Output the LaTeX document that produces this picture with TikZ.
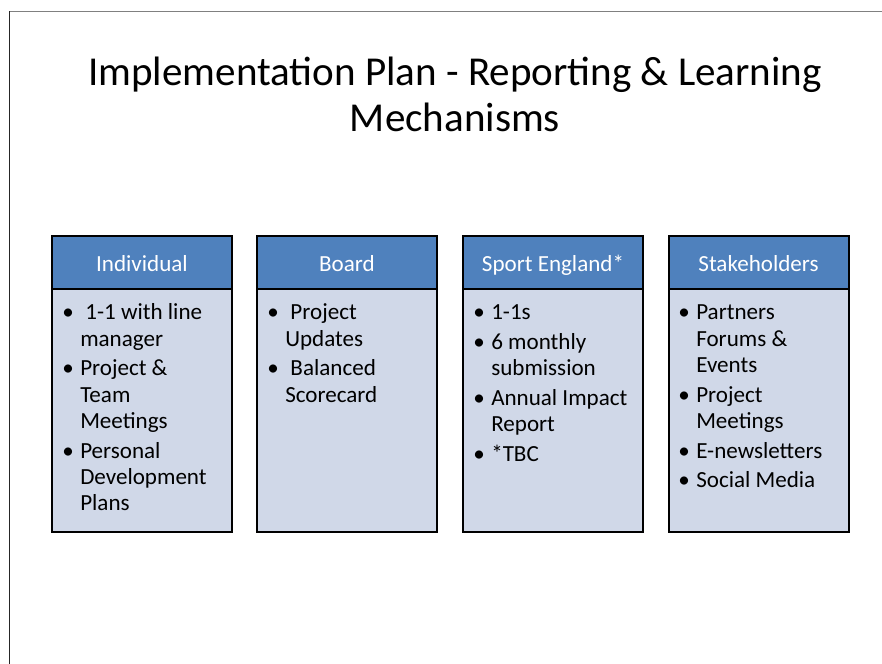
\documentclass[tikz,border=0pt]{standalone}
\usepackage{fontspec}
\setmainfont{Carlito}
\usetikzlibrary{positioning}
\definecolor{headblue}{RGB}{79,129,189}
\definecolor{bodyfill}{RGB}{208,216,232}
\tikzset{
  headbox/.style={draw=black, line width=1.5pt, fill=headblue, outer sep=0pt,
    minimum width=135pt, minimum height=39.75pt, text=white,
    font=\fontsize{17.3}{20}\selectfont, text height=12.8pt, text depth=0pt},
  bodybox/.style={draw=black, line width=1.5pt, fill=bodyfill, outer sep=0pt,
    minimum width=135pt, minimum height=182.25pt},
  listtext/.style={anchor=base west, text width=124pt, align=flush left, inner sep=0pt,
    font=\fontsize{17.3}{19.7}\selectfont,
    execute at begin node={\setlength{\parskip}{2.6pt}}},
  titletext/.style={anchor=base, align=center, inner sep=0pt,
    font=\fontsize{30.8}{34.5}\selectfont},
  frameln/.style={line width=0.75pt},
}
\newcommand{\itm}[1]{%
  \par\hangindent=10.5pt\hangafter=1\noindent
  \makebox[10.5pt][l]{\hspace{-3pt}\textbullet}#1\par}

\begin{document}
\begin{tikzpicture}[x=0.75pt, y=-0.75pt]
  \useasboundingbox (0,0) rectangle (882,664);
  % Slide frame
  \draw[frameln, gray] (9,11) -- (882,11);
  \draw[frameln, black!85] (9,11) -- (9,664);
  % Title
  \node[titletext] (title) at (455,131)
    {Implementation Plan - Reporting \& Learning\\Mechanisms};
  % Individual
  \node[headbox] (indhead) at (142,262.5) {Individual};
  \node[bodybox, below=0pt of indhead] (indbody) {};
  \node[listtext] (indlist) at (66,290)
    {\itm{\ 1-1 with line\newline manager}%
     \itm{Project \&\newline Team\newline Meetings}%
     \itm{Personal\newline Development\newline Plans}};
  % Board
  \node[headbox] (boardhead) at (347,262.5) {Board};
  \node[bodybox, below=0pt of boardhead] (boardbody) {};
  \node[listtext] (boardlist) at (271,290)
    {\itm{\ Project\newline Updates}%
     \itm{\ Balanced\newline Scorecard}};
  % Sport England
  \node[headbox] (sporthead) at (553,262.5) {Sport England*};
  \node[bodybox, below=0pt of sporthead] (sportbody) {};
  \node[listtext] (sportlist) at (477,290)
    {\itm{1-1s}%
     \itm{6 monthly\newline submission}%
     \itm{Annual Impact\newline Report}%
     \itm{*TBC}};
  % Stakeholders
  \node[headbox] (stakehead) at (758.5,262.5) {Stakeholders};
  \node[bodybox, below=0pt of stakehead] (stakebody) {};
  \node[listtext] (stakelist) at (682,290)
    {\itm{Partners\newline Forums \&\newline Events}%
     \itm{Project\newline Meetings}%
     \itm{E-newsletters}%
     \itm{Social Media}};
\end{tikzpicture}
\end{document}
